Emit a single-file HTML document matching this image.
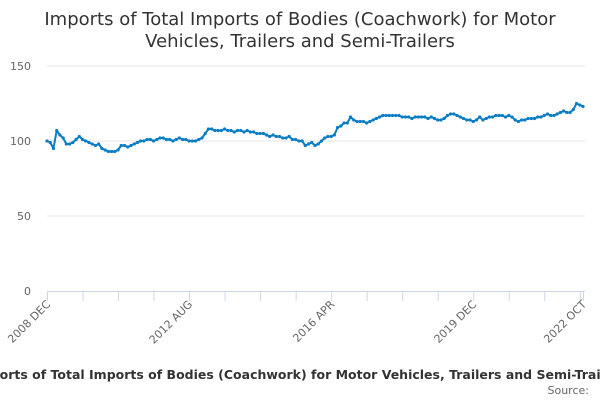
<!DOCTYPE html>
<html><head><meta charset="utf-8"><style>
body{margin:0;background:#fff;font-family:"DejaVu Sans","Liberation Sans",sans-serif}
#wrap{position:relative;width:600px;height:400px;overflow:hidden}
svg text{font-family:"DejaVu Sans","Liberation Sans",sans-serif}
</style></head><body>
<div id="wrap">
<svg id="chart" width="600" height="400"></svg>
</div>
<script>
const startYear=2008, startMonth=12;
const values=[100,99,95,107,104,102,98,98,99,101,103,101,100,99,98,97,98,95,94,93,93,93,94,97,97,96,97,98,99,100,100,101,101,100,101,102,102,101,101,100,101,102,101,101,100,100,100,101,102,105,108,108,107,107,107,108,107,107,106,107,107,106,107,106,106,105,105,105,104,103,104,103,103,102,102,103,101,101,100,100,97,98,99,97,98,100,102,103,103,104,109,110,112,112,116,114,113,113,113,112,113,114,115,116,117,117,117,117,117,117,116,116,116,115,116,116,116,116,115,116,115,114,114,115,117,118,118,117,116,115,114,114,113,114,116,114,115,116,116,117,117,117,116,117,116,114,113,114,114,115,115,115,116,116,117,118,117,117,118,119,120,119,119,121,125,124,123];
const yTicks=[0,50,100,150];
const xLabels=["2008 DEC","2012 AUG","2016 APR","2019 DEC","2022 OCT"];
const xLabelIdx=[0,44,88,132,166];
const NS="http://www.w3.org/2000/svg";
const svg=document.getElementById('chart');
const X0=47,X1=583,Y0=291,Y1=66;
const n=values.length;
function xs(i){return X0+(X1-X0)*i/(n-1);}
function ys(v){return Y0-(Y0-Y1)*v/150;}
function mk(t,a,p){const e=document.createElementNS(NS,t);for(const k in a)e.setAttribute(k,a[k]);(p||svg).appendChild(e);return e;}
const title=mk('text',{x:300,y:25,'text-anchor':'middle','font-size':'18','fill':'#333'});


[["Imports of Total Imports of Bodies (Coachwork) for Motor",0],["Vehicles, Trailers and Semi-Trailers",22]].forEach(([t,dy])=>{const s=mk('tspan',{x:300,dy:dy},title);s.textContent=t;});
yTicks.forEach(v=>{
  if(v>0){const g=mk('line',{x1:X0,x2:X1+2,y1:ys(v),y2:ys(v),stroke:'#e6e6e6','stroke-width':1});
  
  }
  const t=mk('text',{x:31,y:ys(v)+4,'text-anchor':'end','font-size':'11','fill':'#666'});
  t.textContent=v;
  
  
});
const ax=mk('line',{x1:X0,x2:X1+2,y1:Y0+0.5,y2:Y0+0.5,stroke:'#ccd6eb','stroke-width':1});


for(let i=0;i<n;i+=11){
  const tk=mk('line',{x1:xs(i)+0.5,x2:xs(i)+0.5,y1:Y0,y2:Y0+10,stroke:'#ccd6eb','stroke-width':1});
  
  
}
const lt=mk('line',{x1:xs(n-1)+0.5,x2:xs(n-1)+0.5,y1:Y0,y2:Y0+10,stroke:'#ccd6eb','stroke-width':1});


xLabels.forEach((l,k)=>{
  const x=xs(xLabelIdx[k])+4,y=Y0+14;
  const t=mk('text',{x:x,y:y,'text-anchor':'end','font-size':'11','fill':'#666',transform:`rotate(-45 ${x} ${y})`});
  t.textContent=l;
  
  
});
let d='';values.forEach((v,i)=>{d+=(i?'L':'M')+xs(i).toFixed(2)+' '+ys(v).toFixed(2);});
const p=mk('path',{d:d,fill:'none',stroke:'#0b7dc4','stroke-width':2,'stroke-linejoin':'round'});


values.forEach((v,i)=>{
  const c=mk('circle',{cx:xs(i),cy:ys(v),r:1.6,fill:'#0b7dc4'});
  
  
});
const f=mk('text',{x:300,y:379,'text-anchor':'middle','font-size':'12.5','font-weight':'bold','fill':'#333'});
f.textContent='Imports of Total Imports of Bodies (Coachwork) for Motor Vehicles, Trailers and Semi-Trailers';


const s=mk('text',{x:589,y:394,'text-anchor':'end','font-size':'11','fill':'#666'});
s.textContent='Source:';


</script>
</body></html>
